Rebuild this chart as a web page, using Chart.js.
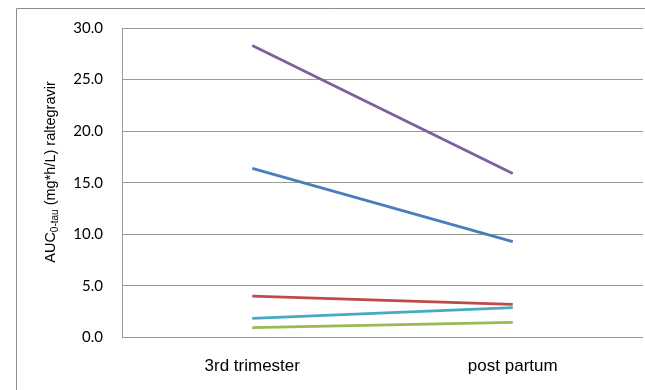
<!DOCTYPE html>
<html>
<head>
<meta charset="utf-8">
<script src="https://cdn.jsdelivr.net/npm/chart.js@4/dist/chart.umd.min.js"></script>
<style>
  html, body { margin: 0; padding: 0; background: #ffffff; overflow: hidden; }
  #wrap { width: 645px; height: 390px; position: relative; }
  canvas { display: block; }
</style>
</head>
<body>
<div id="wrap"><canvas id="c" width="645" height="390"></canvas></div>
<script>
const categories = ["3rd trimester", "post partum"];
const seriesBlue   = [16.4, 9.3];
const seriesRed    = [4.0, 3.2];
const seriesGreen  = [0.95, 1.47];
const seriesPurple = [28.3, 15.9];
const seriesCyan   = [1.85, 2.9];
const yTicks = [0, 5, 10, 15, 20, 25, 30];

const frame = {
  id: 'frame',
  beforeDraw(chart) {
    const ctx = chart.ctx;
    ctx.save();
    ctx.fillStyle = '#ffffff';
    ctx.fillRect(0, 0, chart.width, chart.height);
    ctx.strokeStyle = '#8c8c8c';
    ctx.lineWidth = 1;
    ctx.beginPath();
    ctx.moveTo(16.5, 400);
    ctx.lineTo(16.5, 8.5);
    ctx.lineTo(700, 8.5);
    ctx.stroke();
    ctx.restore();
  },
  afterDraw(chart) {
    const ctx = chart.ctx;
    ctx.save();
    ctx.translate(51, 172);
    ctx.rotate(-Math.PI / 2);
    ctx.fillStyle = '#000000';
    ctx.textBaseline = 'middle';
    const mainFont = '14.5px "Liberation Sans", Arial, sans-serif';
    const subFont = '10px "Liberation Sans", Arial, sans-serif';
    const parts = [["AUC", mainFont, 0], ["0-tau", subFont, 4], [" (mg*h/L) raltegravir", mainFont, 0]];
    let total = 0;
    parts.forEach(p => { ctx.font = p[1]; total += ctx.measureText(p[0]).width; });
    let x = -total / 2;
    ctx.textAlign = 'left';
    parts.forEach(p => {
      ctx.font = p[1];
      ctx.fillText(p[0], x, p[2]);
      x += ctx.measureText(p[0]).width;
    });
    ctx.restore();
  }
};

function ds(label, data, color) {
  return { label, data, borderColor: color, backgroundColor: color, borderWidth: 2.75,
           pointRadius: 0, pointHoverRadius: 0, tension: 0, fill: false };
}

new Chart(document.getElementById('c'), {
  type: 'line',
  data: {
    labels: categories,
    datasets: [
      ds('Blue', seriesBlue, '#4A7EBB'),
      ds('Red', seriesRed, '#BE4B48'),
      ds('Green', seriesGreen, '#98B954'),
      ds('Purple', seriesPurple, '#7D60A0'),
      ds('Cyan', seriesCyan, '#46AAC5')
    ]
  },
  options: {
    responsive: false,
    animation: false,
    events: [],
    layout: { padding: { left: 0, top: 27, right: 2, bottom: 0 } },
    plugins: { legend: { display: false }, tooltip: { enabled: false } },
    scales: {
      x: {
        offset: true,
        grid: { display: false, drawTicks: false, drawOnChartArea: false },
        border: { display: false },
        ticks: { color: '#000000', padding: 19, maxRotation: 0,
                 font: { family: '"Liberation Sans", Arial, sans-serif', size: 17 } },
        afterFit(scale) { scale.height = 390 - 337.5; }
      },
      y: {
        min: 0, max: 30,
        afterBuildTicks(scale) { scale.ticks = yTicks.map(v => ({ value: v })); },
        grid: { color: '#9a9a9a', lineWidth: 1, drawTicks: false },
        border: { display: true, color: '#9a9a9a', width: 1 },
        ticks: { color: '#000000', padding: 19,
                 font: { family: 'Lato, "Open Sans", sans-serif', size: 15 },
                 callback: v => Number(v).toFixed(1) },
        afterFit(scale) { scale.width = 122; }
      }
    }
  },
  plugins: [frame]
});
</script>
</body>
</html>
